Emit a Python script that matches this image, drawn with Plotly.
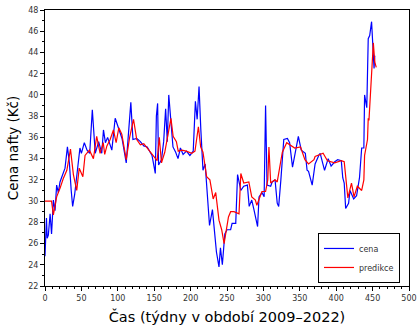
import plotly.graph_objects as go

# cena (actual price) - week index and value
cena_x = [0, 2, 3, 4.6, 7, 9, 11.5, 13.8, 16, 18.3, 20.6, 25, 27.5, 30.8, 33.5, 36, 38, 40.7, 43.6, 48,
          50, 54, 57.8, 61.4, 65, 69, 73.7, 78, 80.3, 83, 86, 91.8, 96.4, 99, 103, 105.8, 111.6, 114.7, 117.9, 120.8,
          126, 131, 135.7, 140.4, 144, 147, 151.5, 153, 154.7, 156, 160, 163, 165.7, 168, 170, 173.5, 175.8, 179.5, 182.7, 186,
          189.7, 194.3, 199, 203.6, 206.6, 209, 211.6, 214, 217, 220, 222, 226, 230, 233.6, 235.5, 239, 241, 243.6, 247, 250,
          255, 257, 262, 264.5, 269, 273, 278, 280.5, 284, 287, 292, 294, 298, 301, 303, 305, 310, 312, 316, 319,
          321, 324, 326, 328, 333, 336, 340, 344, 348, 352, 357.6, 360, 362, 367, 371, 376, 378, 384, 389, 393,
          398, 402, 407, 409, 411, 413, 417, 419, 424, 428, 432, 435, 438, 439, 442, 444, 446, 448.6, 450.8, 452, 453]
cena_y = [24.8, 28.4, 26.5, 26.8, 28.8, 26.9, 30.1, 29.1, 31.5, 30.8, 31.8, 32.7, 33.1, 35.1, 33.6, 31.0, 29.5, 30.6, 32.6, 35.0,
          34.5, 35.5, 34.8, 34.5, 38.6, 34.5, 35.6, 34.5, 36.7, 35.5, 36.0, 34.8, 37.8, 37.3, 36.4, 35.9, 33.6, 36.4, 39.3, 35.8,
          35.9, 35.6, 35.2, 35.1, 34.6, 34.3, 32.6, 38.0, 39.2, 33.4, 33.9, 35.6, 38.7, 35.6, 40.0, 37.0, 35.1, 34.6, 34.0, 35.0,
          34.4, 34.7, 34.3, 34.7, 39.4, 37.7, 40.8, 36.8, 32.9, 33.5, 31.4, 27.7, 29.2, 26.7, 25.2, 23.8, 25.6, 24.0, 26.9, 27.3,
          27.3, 27.9, 27.9, 32.5, 31.0, 31.4, 31.5, 29.5, 30.1, 29.2, 27.6, 30.4, 30.8, 30.4, 39.0, 31.5, 31.4, 31.8, 32.0, 29.8,
          29.5, 32.0, 34.5, 35.8, 35.9, 35.5, 33.2, 34.8, 36.1, 34.8, 34.5, 32.9, 32.8, 31.5, 33.5, 34.3, 34.5, 32.9, 34.0, 33.3,
          33.7, 33.9, 33.8, 32.2, 31.7, 29.3, 29.8, 31.0, 30.2, 30.5, 32.2, 35.0, 35.0, 40.0, 38.8, 45.3, 45.6, 46.9, 44.7, 42.5, 43.7]

# predikce (prediction)
pred_x = [0, 7, 9, 11.5, 14, 16, 20.6, 25, 30, 35, 39, 43.6, 47, 52, 55, 61, 66.5, 71, 75.7, 80,
          82, 85, 89.5, 94, 97.7, 101.4, 105.5, 111.6, 116, 121.6, 126, 131, 135.7, 140, 145, 149.7, 154, 157, 160, 164.5,
          169, 173, 176, 180.5, 183, 188, 194, 201.6, 206, 210.7, 213.8, 217, 222, 226.5, 231, 234.5, 239, 242.7, 246, 250,
          252, 255, 259.6, 266.5, 269, 273, 280, 284, 289, 291, 294, 298, 303, 306, 307.6, 310, 316, 319, 326, 332,
          343, 351, 357, 362, 369.5, 371, 382, 388, 398, 407, 411, 415, 416, 421, 424.5, 429, 433, 435, 438, 439,
          443, 444, 445, 448.6, 451, 453, 455]
pred_y = [30.0, 30.0, 30.0, 28.7, 29.8, 30.4, 31.2, 32.1, 32.9, 34.9, 32.5, 31.0, 33.1, 32.3, 34.3, 34.8, 34.0, 36.1, 34.5, 35.5,
          34.4, 35.2, 35.8, 36.7, 35.5, 36.9, 36.3, 33.9, 35.9, 37.7, 35.8, 35.3, 35.4, 35.0, 34.6, 34.1, 33.8, 36.0, 33.6, 34.6,
          36.3, 37.8, 36.1, 35.6, 34.7, 34.8, 34.7, 34.5, 34.7, 37.0, 35.1, 34.6, 32.3, 32.0, 30.2, 30.8, 28.2, 27.3, 26.0, 27.9,
          28.5, 29.0, 29.0, 28.8, 32.6, 31.7, 31.8, 30.4, 30.1, 29.6, 30.2, 30.9, 30.9, 32.0, 35.1, 31.7, 32.0, 31.8, 34.6, 35.5,
          35.0, 35.1, 33.9, 33.5, 33.9, 34.2, 34.5, 33.8, 33.6, 33.8, 33.7, 31.4, 30.3, 31.7, 30.4, 31.4, 31.1, 31.0, 32.0, 34.3,
          35.8, 37.8, 37.6, 42.8, 44.9, 43.1, 42.6]

x_ticks = [0, 50, 100, 150, 200, 250, 300, 350, 400, 450, 500]
y_ticks = [22, 24, 26, 28, 30, 32, 34, 36, 38, 40, 42, 44, 46, 48]

fig = go.Figure()
fig.add_trace(go.Scatter(x=cena_x, y=cena_y, mode="lines", name="cena",
                         line=dict(color="#0000ff", width=1.2)))
fig.add_trace(go.Scatter(x=pred_x, y=pred_y, mode="lines", name="predikce",
                         line=dict(color="#ff0000", width=1.2)))

axis_common = dict(showline=True, linecolor="black", linewidth=1, mirror=True,
                   showgrid=False, zeroline=False, ticks="outside", ticklen=4,
                   automargin=False,
                   tickcolor="black", tickfont=dict(size=8, color="#333", family="DejaVu Sans"))
fig.update_xaxes(range=[0, 500], tickvals=x_ticks,
                 minor=dict(dtick=10, ticks="outside", ticklen=2, tickcolor="black"),
                 title=dict(text="Čas (týdny v období 2009–2022)",
                            font=dict(size=14.5, family="DejaVu Sans", color="black"), standoff=13),
                 **axis_common)
fig.update_yaxes(range=[22, 48], tickvals=y_ticks,
                 minor=dict(dtick=1, ticks="outside", ticklen=2, tickcolor="black"),
                 title=dict(text="Cena nafty (Kč)",
                            font=dict(size=13.5, family="DejaVu Sans", color="black"), standoff=6),
                 **axis_common)
fig.update_layout(
    width=419, height=325,
    margin=dict(l=45, r=10, t=10, b=39, autoexpand=False),
    plot_bgcolor="white", paper_bgcolor="white",
    legend=dict(x=0.75, y=0.011, xanchor="left", yanchor="bottom",
                bordercolor="black", borderwidth=1, bgcolor="white",
                font=dict(size=8, family="DejaVu Sans", color="#333"),
                tracegroupgap=0, itemwidth=30),
    showlegend=True,
)
# remove the default 8px page margin so the figure fills the window exactly
fig.write_html("out.html",
               config={"displayModeBar": False},
               post_script="document.body.style.margin='0';document.body.style.overflow='hidden';")
